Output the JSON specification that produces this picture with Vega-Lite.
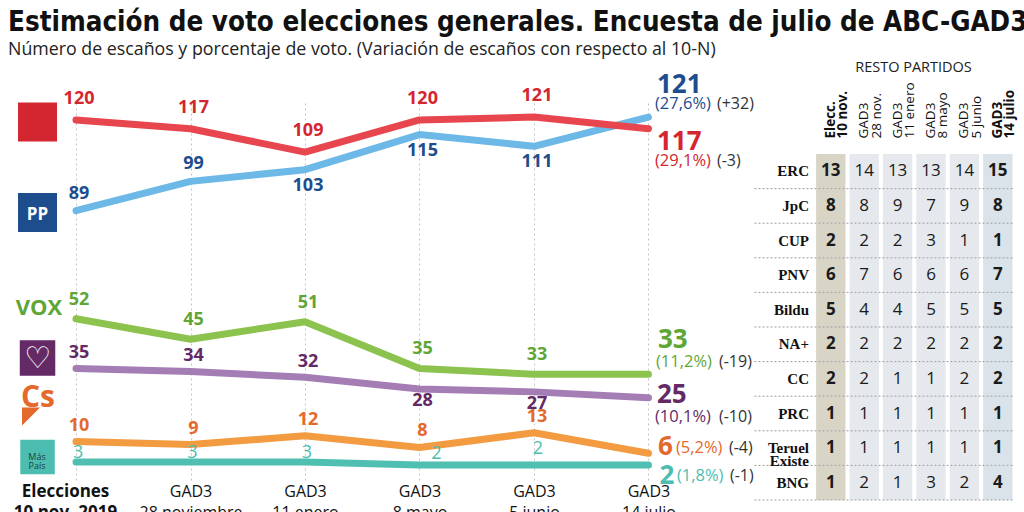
{
  "$schema": "https://vega.github.io/schema/vega-lite/v6.json",
  "padding": {"left": 0, "top": 9, "right": 0, "bottom": 0},
  "background": "white",
  "title": {
    "text": "Estimación de voto elecciones generales. Encuesta de julio de ABC-GAD3",
    "subtitle": "Número de escaños y porcentaje de voto. (Variación de escaños con respecto al 10-N)",
    "anchor": "start",
    "font": "DejaVu Sans Condensed",
    "fontSize": 27.5,
    "fontWeight": "bold",
    "color": "#111111",
    "subtitleFont": "Open Sans",
    "subtitleFontSize": 17.8,
    "subtitleColor": "#222222",
    "subtitlePadding": 4,
    "offset": 2,
    "dx": 8
  },
  "datasets": {
    "series": [
      {"party": "PSOE", "wave": 0, "seats": 120}, {"party": "PSOE", "wave": 1, "seats": 117}, {"party": "PSOE", "wave": 2, "seats": 109},
      {"party": "PSOE", "wave": 3, "seats": 120}, {"party": "PSOE", "wave": 4, "seats": 121}, {"party": "PSOE", "wave": 5, "seats": 117},
      {"party": "PP", "wave": 0, "seats": 89}, {"party": "PP", "wave": 1, "seats": 99}, {"party": "PP", "wave": 2, "seats": 103},
      {"party": "PP", "wave": 3, "seats": 115}, {"party": "PP", "wave": 4, "seats": 111}, {"party": "PP", "wave": 5, "seats": 121},
      {"party": "VOX", "wave": 0, "seats": 52}, {"party": "VOX", "wave": 1, "seats": 45}, {"party": "VOX", "wave": 2, "seats": 51},
      {"party": "VOX", "wave": 3, "seats": 35}, {"party": "VOX", "wave": 4, "seats": 33}, {"party": "VOX", "wave": 5, "seats": 33},
      {"party": "Podemos", "wave": 0, "seats": 35}, {"party": "Podemos", "wave": 1, "seats": 34}, {"party": "Podemos", "wave": 2, "seats": 32},
      {"party": "Podemos", "wave": 3, "seats": 28}, {"party": "Podemos", "wave": 4, "seats": 27}, {"party": "Podemos", "wave": 5, "seats": 25},
      {"party": "Cs", "wave": 0, "seats": 10}, {"party": "Cs", "wave": 1, "seats": 9}, {"party": "Cs", "wave": 2, "seats": 12},
      {"party": "Cs", "wave": 3, "seats": 8}, {"party": "Cs", "wave": 4, "seats": 13}, {"party": "Cs", "wave": 5, "seats": 6},
      {"party": "Más País", "wave": 0, "seats": 3}, {"party": "Más País", "wave": 1, "seats": 3}, {"party": "Más País", "wave": 2, "seats": 3},
      {"party": "Más País", "wave": 3, "seats": 2}, {"party": "Más País", "wave": 4, "seats": 2}, {"party": "Más País", "wave": 5, "seats": 2}
    ],
    "final": [
      {"party": "PSOE", "pct": "(29,1%)", "change": "(-3)"},
      {"party": "PP", "pct": "(27,6%)", "change": "(+32)"},
      {"party": "VOX", "pct": "(11,2%)", "change": "(-19)"},
      {"party": "Podemos", "pct": "(10,1%)", "change": "(-10)"},
      {"party": "Cs", "pct": "(5,2%)", "change": "(-4)"},
      {"party": "Más País", "pct": "(1,8%)", "change": "(-1)"}
    ],
    "periods": [
      {"wave": 0, "period": "Elecciones\n10 nov. 2019", "header": "Elecc.\n10 nov."},
      {"wave": 1, "period": "GAD3\n28 noviembre", "header": "GAD3\n28 nov."},
      {"wave": 2, "period": "GAD3\n11 enero", "header": "GAD3\n11 enero"},
      {"wave": 3, "period": "GAD3\n8 mayo", "header": "GAD3\n8 mayo"},
      {"wave": 4, "period": "GAD3\n5 junio", "header": "GAD3\n5 junio"},
      {"wave": 5, "period": "GAD3\n14 julio", "header": "GAD3\n14 julio"}
    ],
    "table": [
      {"party": "ERC", "wave": 0, "seats": 13}, {"party": "ERC", "wave": 1, "seats": 14}, {"party": "ERC", "wave": 2, "seats": 13},
      {"party": "ERC", "wave": 3, "seats": 13}, {"party": "ERC", "wave": 4, "seats": 14}, {"party": "ERC", "wave": 5, "seats": 15},
      {"party": "JpC", "wave": 0, "seats": 8}, {"party": "JpC", "wave": 1, "seats": 8}, {"party": "JpC", "wave": 2, "seats": 9},
      {"party": "JpC", "wave": 3, "seats": 7}, {"party": "JpC", "wave": 4, "seats": 9}, {"party": "JpC", "wave": 5, "seats": 8},
      {"party": "CUP", "wave": 0, "seats": 2}, {"party": "CUP", "wave": 1, "seats": 2}, {"party": "CUP", "wave": 2, "seats": 2},
      {"party": "CUP", "wave": 3, "seats": 3}, {"party": "CUP", "wave": 4, "seats": 1}, {"party": "CUP", "wave": 5, "seats": 1},
      {"party": "PNV", "wave": 0, "seats": 6}, {"party": "PNV", "wave": 1, "seats": 7}, {"party": "PNV", "wave": 2, "seats": 6},
      {"party": "PNV", "wave": 3, "seats": 6}, {"party": "PNV", "wave": 4, "seats": 6}, {"party": "PNV", "wave": 5, "seats": 7},
      {"party": "Bildu", "wave": 0, "seats": 5}, {"party": "Bildu", "wave": 1, "seats": 4}, {"party": "Bildu", "wave": 2, "seats": 4},
      {"party": "Bildu", "wave": 3, "seats": 5}, {"party": "Bildu", "wave": 4, "seats": 5}, {"party": "Bildu", "wave": 5, "seats": 5},
      {"party": "NA+", "wave": 0, "seats": 2}, {"party": "NA+", "wave": 1, "seats": 2}, {"party": "NA+", "wave": 2, "seats": 2},
      {"party": "NA+", "wave": 3, "seats": 2}, {"party": "NA+", "wave": 4, "seats": 2}, {"party": "NA+", "wave": 5, "seats": 2},
      {"party": "CC", "wave": 0, "seats": 2}, {"party": "CC", "wave": 1, "seats": 2}, {"party": "CC", "wave": 2, "seats": 1},
      {"party": "CC", "wave": 3, "seats": 1}, {"party": "CC", "wave": 4, "seats": 2}, {"party": "CC", "wave": 5, "seats": 2},
      {"party": "PRC", "wave": 0, "seats": 1}, {"party": "PRC", "wave": 1, "seats": 1}, {"party": "PRC", "wave": 2, "seats": 1},
      {"party": "PRC", "wave": 3, "seats": 1}, {"party": "PRC", "wave": 4, "seats": 1}, {"party": "PRC", "wave": 5, "seats": 1},
      {"party": "Teruel Existe", "wave": 0, "seats": 1}, {"party": "Teruel Existe", "wave": 1, "seats": 1}, {"party": "Teruel Existe", "wave": 2, "seats": 1},
      {"party": "Teruel Existe", "wave": 3, "seats": 1}, {"party": "Teruel Existe", "wave": 4, "seats": 1}, {"party": "Teruel Existe", "wave": 5, "seats": 1},
      {"party": "BNG", "wave": 0, "seats": 1}, {"party": "BNG", "wave": 1, "seats": 2}, {"party": "BNG", "wave": 2, "seats": 1},
      {"party": "BNG", "wave": 3, "seats": 3}, {"party": "BNG", "wave": 4, "seats": 2}, {"party": "BNG", "wave": 5, "seats": 4}
    ]
  },
  "hconcat": [
    {
      "width": 724.5,
      "height": 377,
      "data": {"name": "series"},
      "transform": [
        {"lookup": "wave", "from": {"data": {"name": "periods"}, "key": "wave", "fields": ["period"]}},
        {"lookup": "party", "from": {"data": {"name": "final"}, "key": "party", "fields": ["pct", "change"]}}
      ],
      "encoding": {
        "x": {
          "field": "period", "type": "ordinal", "sort": {"field": "wave", "op": "min"}, "title": null,
          "scale": {"type": "point", "padding": 0.664},
          "axis": {
            "orient": "bottom", "domain": false, "ticks": false, "grid": true,
            "gridDash": [2, 3], "gridColor": "#c4c4c4", "gridWidth": 1,
            "labelAngle": 0, "labelAlign": "center",
            "labelExpr": "split(datum.label, '\\n')",
            "labelFont": "Open Sans", "labelColor": "#111111",
            "labelFontSize": {"condition": {"test": "indexof(datum.value, 'Elecciones') >= 0", "value": 17}, "value": 16},
            "labelFontWeight": {"condition": {"test": "indexof(datum.value, 'Elecciones') >= 0", "value": "bold"}, "value": "normal"},
            "labelOffset": {"condition": {"test": "indexof(datum.value, 'Elecciones') >= 0", "value": -11}, "value": 0},
            "labelLineHeight": 21, "labelPadding": 3, "labelLimit": 300, "labelOverlap": false
          }
        },
        "y": {"field": "seats", "type": "quantitative", "scale": {"domain": [-3.14, 125.8], "nice": false, "zero": false}, "axis": null}
      },
      "layer": [
        {
          "transform": [{"filter": "datum.party != 'PSOE'"}],
          "mark": {"type": "line", "strokeWidth": 7, "strokeCap": "round", "strokeJoin": "round"},
          "encoding": {
            "stroke": {"field": "party", "type": "nominal", "scale": {"domain": ["PSOE", "PP", "VOX", "Podemos", "Cs", "Más País"], "range": ["#e8464f", "#6cb8e6", "#8cc24e", "#a57db5", "#f39b40", "#4fbfb2"]}},
            "order": {"field": "wave"}
          }
        },
        {
          "transform": [{"filter": "datum.party == 'PSOE'"}],
          "mark": {"type": "line", "strokeWidth": 7, "strokeCap": "round", "strokeJoin": "round"},
          "encoding": {
            "stroke": {"field": "party", "type": "nominal", "scale": {"domain": ["PSOE", "PP", "VOX", "Podemos", "Cs", "Más País"], "range": ["#e8464f", "#6cb8e6", "#8cc24e", "#a57db5", "#f39b40", "#4fbfb2"]}},
            "order": {"field": "wave"}
          }
        },
        {
          "transform": [{"filter": "datum.wave == 0 && (datum.party == 'PSOE' || datum.party == 'PP')"}],
          "mark": {"type": "square", "size": 1521, "filled": true, "opacity": 1, "xOffset": -38.5, "yOffset": 2},
          "encoding": {"fill": {"field": "party", "type": "nominal", "scale": {"domain": ["PSOE", "PP", "VOX", "Podemos", "Cs", "Más País"], "range": ["#d42630", "#1e4d8d", "#5fa636", "#632a65", "#e4692c", "#4dbdb1"]}}}
        },
        {
          "transform": [{"filter": "datum.wave == 0 && datum.party == 'Podemos'"}],
          "mark": {"type": "square", "size": 1260, "filled": true, "opacity": 1, "xOffset": -38.5, "yOffset": -10.6},
          "encoding": {"fill": {"field": "party", "type": "nominal"}}
        },
        {
          "transform": [{"filter": "datum.wave == 0 && datum.party == 'Más País'"}],
          "mark": {"type": "square", "size": 1190, "filled": true, "opacity": 1, "xOffset": -38.5, "yOffset": -5},
          "encoding": {"fill": {"field": "party", "type": "nominal"}}
        },
        {
          "transform": [{"filter": "datum.wave == 0 && datum.party == 'PP'"}],
          "mark": {"type": "text", "font": "Open Sans", "fontWeight": "bold", "fontSize": 17, "fill": "white", "dx": -38.5, "dy": 4},
          "encoding": {"text": {"field": "party"}}
        },
        {
          "transform": [{"filter": "datum.wave == 0 && datum.party == 'Podemos'"}],
          "mark": {"type": "text", "font": "DejaVu Sans", "fontSize": 30, "fill": "white", "dx": -38.5, "dy": -9},
          "encoding": {"text": {"value": "♡"}}
        },
        {
          "transform": [{"filter": "datum.wave == 0 && datum.party == 'Más País'"}],
          "mark": {"type": "text", "font": "Open Sans", "fontSize": 9, "fill": "#1d3f3b", "dx": -39, "dy": -5, "lineBreak": " ", "lineHeight": 9},
          "encoding": {"text": {"field": "party"}}
        },
        {
          "transform": [{"filter": "datum.wave == 0 && datum.party == 'VOX'"}],
          "mark": {"type": "text", "font": "Open Sans", "fontWeight": "bold", "fontSize": 22, "dx": -37, "dy": -11},
          "encoding": {"text": {"field": "party"}, "fill": {"field": "party", "type": "nominal"}}
        },
        {
          "transform": [{"filter": "datum.wave == 0 && datum.party == 'Cs'"}],
          "mark": {"type": "text", "font": "Open Sans", "fontWeight": "bold", "fontSize": 30, "dx": -38, "dy": -44},
          "encoding": {"text": {"field": "party"}, "fill": {"field": "party", "type": "nominal"}}
        },
        {
          "transform": [{"filter": "datum.wave == 0 && datum.party == 'Cs'"}],
          "mark": {"type": "point", "shape": "M -1 -1 L 1 -1 L -1 1 Z", "size": 324, "filled": true, "opacity": 1, "xOffset": -45, "yOffset": -25},
          "encoding": {"fill": {"field": "party", "type": "nominal"}}
        },
        {
          "transform": [{"filter": "datum.party == 'PSOE' && datum.wave < 5"}],
          "mark": {"type": "text", "font": "Open Sans", "fontWeight": "bold", "fontSize": 18, "dx": 3, "dy": -21},
          "encoding": {"text": {"field": "seats"}, "fill": {"field": "party", "type": "nominal"}}
        },
        {
          "transform": [{"filter": "datum.party == 'VOX' && datum.wave < 5"}],
          "mark": {"type": "text", "font": "Open Sans", "fontWeight": "bold", "fontSize": 18, "dx": 3, "dy": -19},
          "encoding": {"text": {"field": "seats"}, "fill": {"field": "party", "type": "nominal"}}
        },
        {
          "transform": [{"filter": "datum.party == 'PP' && datum.wave < 2"}],
          "mark": {"type": "text", "font": "Open Sans", "fontWeight": "bold", "fontSize": 18, "dx": 3, "dy": -17},
          "encoding": {"text": {"field": "seats"}, "fill": {"field": "party", "type": "nominal"}}
        },
        {
          "transform": [{"filter": "datum.party == 'PP' && datum.wave >= 2 && datum.wave < 5"}],
          "mark": {"type": "text", "font": "Open Sans", "fontWeight": "bold", "fontSize": 18, "dx": 3, "dy": 16},
          "encoding": {"text": {"field": "seats"}, "fill": {"field": "party", "type": "nominal"}}
        },
        {
          "transform": [{"filter": "datum.party == 'Podemos' && datum.wave < 3"}],
          "mark": {"type": "text", "font": "Open Sans", "fontWeight": "bold", "fontSize": 18, "dx": 3, "dy": -15},
          "encoding": {"text": {"field": "seats"}, "fill": {"field": "party", "type": "nominal"}}
        },
        {
          "transform": [{"filter": "datum.party == 'Podemos' && datum.wave >= 3 && datum.wave < 5"}],
          "mark": {"type": "text", "font": "Open Sans", "fontWeight": "bold", "fontSize": 18, "dx": 3, "dy": 12},
          "encoding": {"text": {"field": "seats"}, "fill": {"field": "party", "type": "nominal"}}
        },
        {
          "transform": [{"filter": "datum.party == 'Cs' && datum.wave < 5"}],
          "mark": {"type": "text", "font": "Open Sans", "fontWeight": "bold", "fontSize": 18, "dx": 3, "dy": -16},
          "encoding": {"text": {"field": "seats"}, "fill": {"field": "party", "type": "nominal"}}
        },
        {
          "transform": [{"filter": "datum.party == 'Más País' && datum.wave < 3"}],
          "mark": {"type": "text", "font": "Open Sans", "fontSize": 18, "dx": 2, "dy": -9},
          "encoding": {"text": {"field": "seats"}, "fill": {"field": "party", "type": "nominal"}}
        },
        {
          "transform": [{"filter": "datum.party == 'Más País' && datum.wave == 3"}],
          "mark": {"type": "text", "font": "Open Sans", "fontSize": 18, "dx": 17, "dy": -11},
          "encoding": {"text": {"field": "seats"}, "fill": {"field": "party", "type": "nominal"}}
        },
        {
          "transform": [{"filter": "datum.party == 'Más País' && datum.wave == 4"}],
          "mark": {"type": "text", "font": "Open Sans", "fontSize": 18, "dx": 4, "dy": -16},
          "encoding": {"text": {"field": "seats"}, "fill": {"field": "party", "type": "nominal"}}
        },
        {
          "transform": [{"filter": "datum.party == 'PP' && datum.wave == 5"}],
          "layer": [
            {"mark": {"type": "text", "align": "left", "font": "Open Sans", "fontWeight": "bold", "fontSize": 26, "dx": 8.5, "dy": -32}, "encoding": {"text": {"field": "seats"}, "fill": {"field": "party", "type": "nominal"}}},
            {"mark": {"type": "text", "align": "left", "font": "Open Sans", "fontSize": 16.5, "dx": 6.5, "dy": -13}, "encoding": {"text": {"field": "pct"}, "fill": {"field": "party", "type": "nominal"}}},
            {"mark": {"type": "text", "align": "left", "font": "Open Sans", "fontSize": 16, "fill": "#333333", "dx": 68.5, "dy": -13}, "encoding": {"text": {"field": "change"}}}
          ]
        },
        {
          "transform": [{"filter": "datum.party == 'PSOE' && datum.wave == 5"}],
          "layer": [
            {"mark": {"type": "text", "align": "left", "font": "Open Sans", "fontWeight": "bold", "fontSize": 26, "dx": 8.5, "dy": 13}, "encoding": {"text": {"field": "seats"}, "fill": {"field": "party", "type": "nominal"}}},
            {"mark": {"type": "text", "align": "left", "font": "Open Sans", "fontSize": 16.5, "dx": 6.5, "dy": 32}, "encoding": {"text": {"field": "pct"}, "fill": {"field": "party", "type": "nominal"}}},
            {"mark": {"type": "text", "align": "left", "font": "Open Sans", "fontSize": 16, "fill": "#333333", "dx": 68.5, "dy": 32}, "encoding": {"text": {"field": "change"}}}
          ]
        },
        {
          "transform": [{"filter": "datum.party == 'VOX' && datum.wave == 5"}],
          "layer": [
            {"mark": {"type": "text", "align": "left", "font": "Open Sans", "fontWeight": "bold", "fontSize": 26, "dx": 9.5, "dy": -34}, "encoding": {"text": {"field": "seats"}, "fill": {"field": "party", "type": "nominal"}}},
            {"mark": {"type": "text", "align": "left", "font": "Open Sans", "fontSize": 16.5, "dx": 7.5, "dy": -12}, "encoding": {"text": {"field": "pct"}, "fill": {"field": "party", "type": "nominal"}}},
            {"mark": {"type": "text", "align": "left", "font": "Open Sans", "fontSize": 16, "fill": "#333333", "dx": 70.5, "dy": -12}, "encoding": {"text": {"field": "change"}}}
          ]
        },
        {
          "transform": [{"filter": "datum.party == 'Podemos' && datum.wave == 5"}],
          "layer": [
            {"mark": {"type": "text", "align": "left", "font": "Open Sans", "fontWeight": "bold", "fontSize": 26, "dx": 8.5, "dy": -3}, "encoding": {"text": {"field": "seats"}, "fill": {"field": "party", "type": "nominal"}}},
            {"mark": {"type": "text", "align": "left", "font": "Open Sans", "fontSize": 16.5, "dx": 6.5, "dy": 19}, "encoding": {"text": {"field": "pct"}, "fill": {"field": "party", "type": "nominal"}}},
            {"mark": {"type": "text", "align": "left", "font": "Open Sans", "fontSize": 16, "fill": "#333333", "dx": 70.5, "dy": 19}, "encoding": {"text": {"field": "change"}}}
          ]
        },
        {
          "transform": [{"filter": "datum.party == 'Cs' && datum.wave == 5"}],
          "layer": [
            {"mark": {"type": "text", "align": "left", "font": "Open Sans", "fontWeight": "bold", "fontSize": 26, "dx": 9.5, "dy": -6}, "encoding": {"text": {"field": "seats"}, "fill": {"field": "party", "type": "nominal"}}},
            {"mark": {"type": "text", "align": "left", "font": "Open Sans", "fontSize": 16.5, "dx": 27.5, "dy": -5}, "encoding": {"text": {"field": "pct"}, "fill": {"field": "party", "type": "nominal"}}},
            {"mark": {"type": "text", "align": "left", "font": "Open Sans", "fontSize": 16, "fill": "#333333", "dx": 80.5, "dy": -5}, "encoding": {"text": {"field": "change"}}}
          ]
        },
        {
          "transform": [{"filter": "datum.party == 'Más País' && datum.wave == 5"}],
          "layer": [
            {"mark": {"type": "text", "align": "left", "font": "Open Sans", "fontWeight": "bold", "fontSize": 26, "dx": 11, "dy": 11}, "encoding": {"text": {"field": "seats"}, "fill": {"field": "party", "type": "nominal"}}},
            {"mark": {"type": "text", "align": "left", "font": "Open Sans", "fontSize": 16.5, "dx": 28.5, "dy": 11}, "encoding": {"text": {"field": "pct"}, "fill": {"field": "party", "type": "nominal"}}},
            {"mark": {"type": "text", "align": "left", "font": "Open Sans", "fontSize": 16, "fill": "#333333", "dx": 81.5, "dy": 11}, "encoding": {"text": {"field": "change"}}}
          ]
        }
      ]
    },
    {
      "width": 260,
      "height": 397,
      "title": {"text": "RESTO PARTIDOS", "font": "Open Sans", "fontSize": 14.5, "fontWeight": "normal", "color": "#222222", "offset": 6, "dx": 31, "anchor": "middle"},
      "data": {"name": "table"},
      "transform": [
        {"lookup": "wave", "from": {"data": {"name": "periods"}, "key": "wave", "fields": ["header"]}}
      ],
      "encoding": {
        "y": {
          "field": "party", "type": "nominal", "sort": null, "title": null,
          "scale": {"type": "band", "paddingInner": 0, "paddingOuter": 0.737, "align": 1},
          "axis": {
            "orient": "left", "offset": -60, "domain": false, "ticks": false, "grid": false,
            "labelFont": "Liberation Serif", "labelFontSize": 15, "labelFontWeight": "bold", "labelColor": "#111111",
            "labelPadding": 4, "labelExpr": "split(datum.label, ' ')", "labelLineHeight": 13
          }
        }
      },
      "layer": [
        {
          "mark": {"type": "rect"},
          "encoding": {
            "x": {
              "field": "header", "type": "nominal", "sort": {"field": "wave", "op": "min"}, "title": null,
              "scale": {"type": "band", "paddingInner": 0.12, "paddingOuter": 0.952, "align": 1},
              "axis": {
                "orient": "top", "offset": -37, "domain": false, "ticks": false, "grid": false,
                "labelAngle": 270, "labelAlign": "left", "labelBaseline": "middle",
                "labelExpr": "split(datum.label, '\\n')",
                "labelFont": "Open Sans", "labelFontSize": 13.5, "labelLineHeight": 12.5, "labelPadding": 2, "labelColor": "#111111",
                "labelFontWeight": {"condition": {"test": "indexof(datum.value, 'Elecc') >= 0 || indexof(datum.value, 'julio') >= 0", "value": "bold"}, "value": "normal"}
              }
            },
            "color": {"field": "wave", "type": "ordinal", "scale": {"range": ["#d8d5c7", "#e5e9ed", "#e5e9ed", "#e5e9ed", "#e5e9ed", "#dae2ea"]}}
          }
        },
        {
          "transform": [{"filter": "datum.wave == 0"}],
          "mark": {"type": "rule", "strokeDash": [2, 2], "color": "#9c9c9c", "strokeWidth": 1},
          "encoding": {
            "y": {
              "field": "party", "type": "nominal", "sort": null, "title": null, "bandPosition": 1,
              "axis": {
                "orient": "left", "offset": -60, "domain": false, "ticks": false, "grid": false,
                "labelFont": "Liberation Serif", "labelFontSize": 15, "labelFontWeight": "bold", "labelColor": "#111111",
                "labelPadding": 4, "labelExpr": "split(datum.label, ' ')", "labelLineHeight": 13
              }
            }
          }
        },
        {
          "transform": [{"filter": "datum.wave > 0 && datum.wave < 5"}],
          "mark": {"type": "text", "font": "Open Sans", "fontSize": 17, "fill": "#1a1a1a"},
          "encoding": {
            "x": {
              "field": "header", "type": "nominal", "sort": {"field": "wave", "op": "min"}, "title": null,
              "axis": {
                "orient": "top", "offset": -37, "domain": false, "ticks": false, "grid": false,
                "labelAngle": 270, "labelAlign": "left", "labelBaseline": "middle",
                "labelExpr": "split(datum.label, '\\n')",
                "labelFont": "Open Sans", "labelFontSize": 13.5, "labelLineHeight": 12.5, "labelPadding": 2, "labelColor": "#111111",
                "labelFontWeight": {"condition": {"test": "indexof(datum.value, 'Elecc') >= 0 || indexof(datum.value, 'julio') >= 0", "value": "bold"}, "value": "normal"}
              }
            },
            "text": {"field": "seats"}
          }
        },
        {
          "transform": [{"filter": "datum.wave == 0 || datum.wave == 5"}],
          "mark": {"type": "text", "font": "Open Sans", "fontWeight": "bold", "fontSize": 17, "fill": "#1a1a1a"},
          "encoding": {
            "x": {
              "field": "header", "type": "nominal", "sort": {"field": "wave", "op": "min"}, "title": null,
              "axis": {
                "orient": "top", "offset": -37, "domain": false, "ticks": false, "grid": false,
                "labelAngle": 270, "labelAlign": "left", "labelBaseline": "middle",
                "labelExpr": "split(datum.label, '\\n')",
                "labelFont": "Open Sans", "labelFontSize": 13.5, "labelLineHeight": 12.5, "labelPadding": 2, "labelColor": "#111111",
                "labelFontWeight": {"condition": {"test": "indexof(datum.value, 'Elecc') >= 0 || indexof(datum.value, 'julio') >= 0", "value": "bold"}, "value": "normal"}
              }
            },
            "text": {"field": "seats"}
          }
        }
      ]
    }
  ],
  "spacing": 27.5,
  "bounds": "flush",
  "resolve": {"scale": {"fill": "independent", "color": "independent", "x": "independent", "y": "independent"}},
  "config": {
    "view": {"stroke": null},
    "legend": {"disable": true},
    "font": "Open Sans"
  }
}
